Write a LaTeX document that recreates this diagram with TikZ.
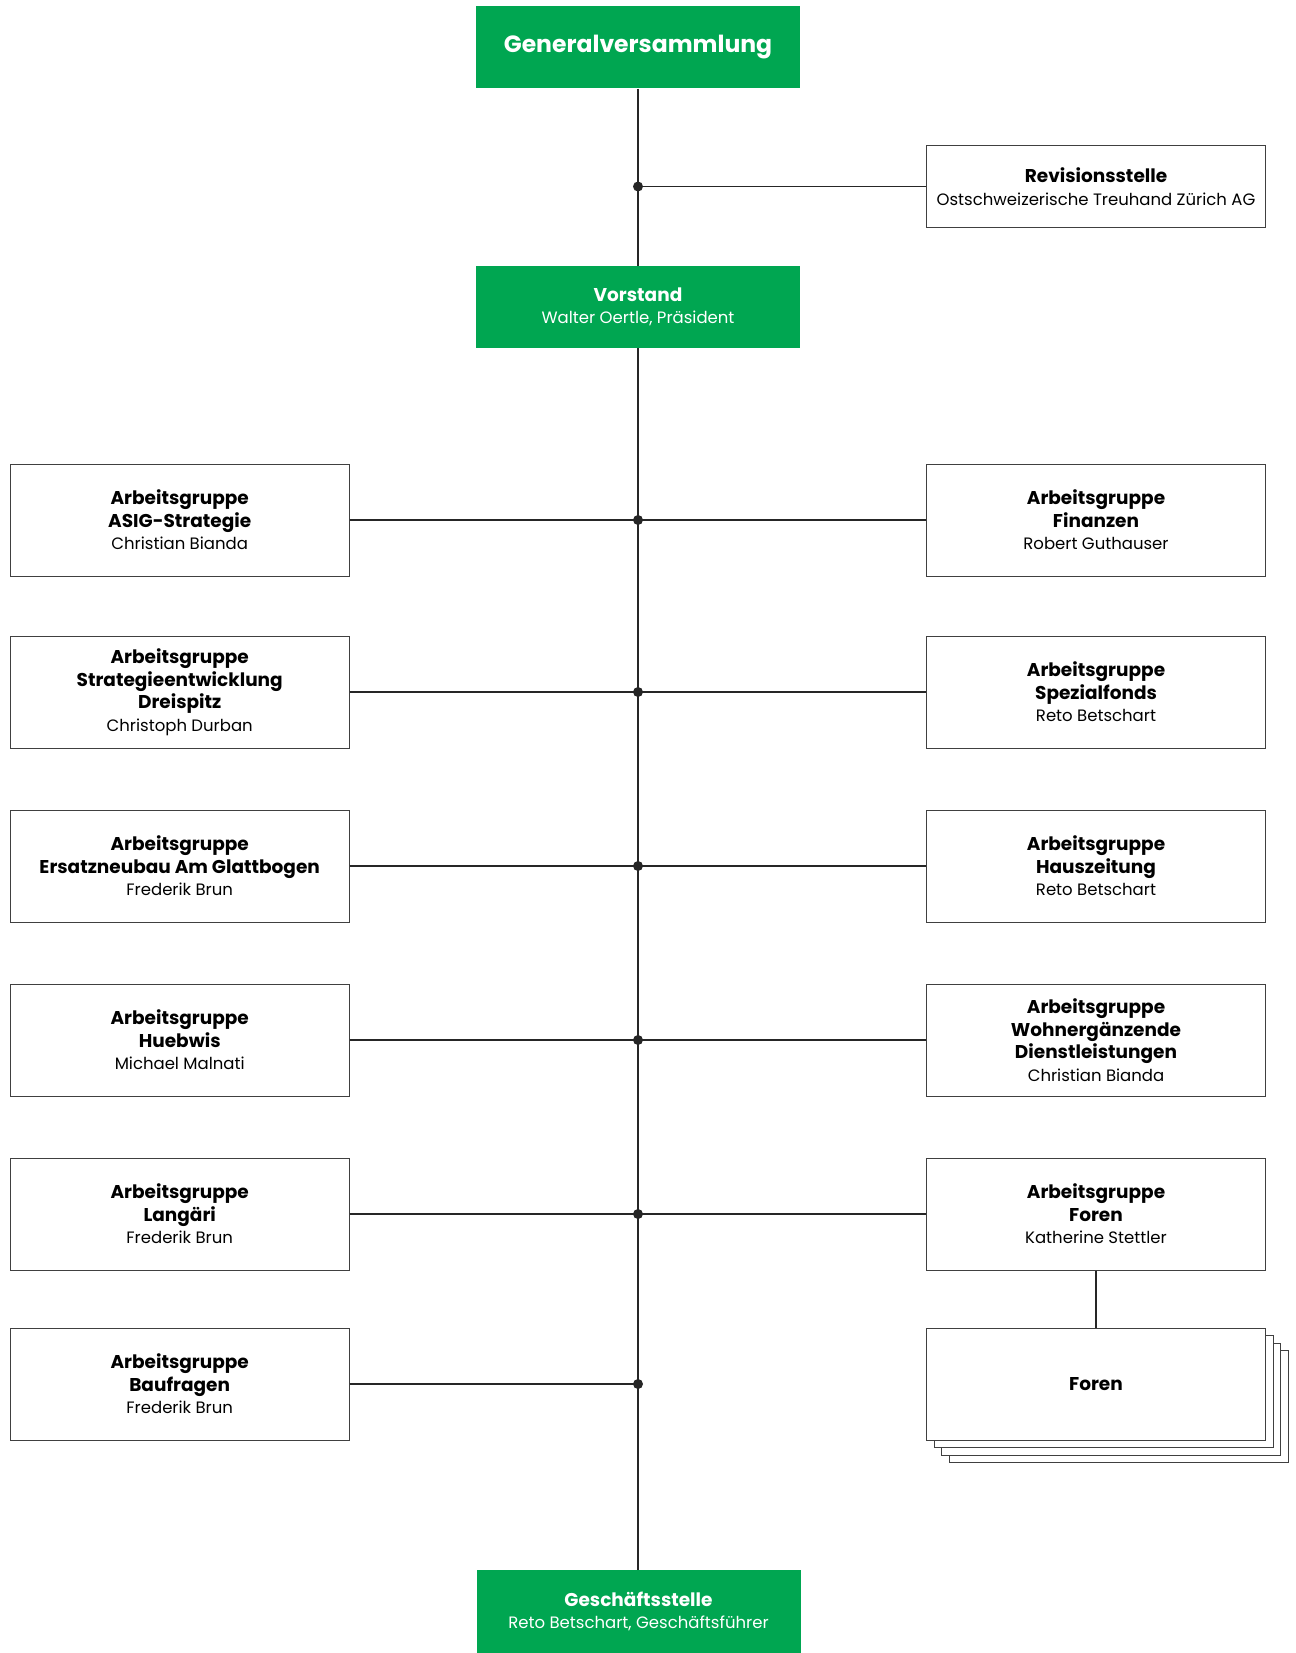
\documentclass[tikz,border=0pt]{standalone}
\usepackage{fontspec}
\setmainfont{Poppins}
\definecolor{asiggreen}{RGB}{0,166,81}
\newcommand{\hd}[1]{{\fontsize{18.5}{22.5}\selectfont\bfseries #1}}

\begin{document}
\begin{tikzpicture}[x=1pt,y=-1pt,
    greenbox/.style={fill=asiggreen, text=white, minimum width=324pt, minimum height=82pt,
      align=center, inner sep=0pt, font=\fontsize{16.5}{22.5}\selectfont},
    groupbox/.style={draw=black!75, line width=1pt, fill=white, minimum width=339pt,
      minimum height=112pt, align=center, inner sep=0pt, font=\fontsize{16.5}{22.5}\selectfont},
    link/.style={draw=black!85, line width=1.3pt},
    junction/.style={circle, fill=black!85, inner sep=0pt, minimum size=10pt}]
    \useasboundingbox (0,0) rectangle (1295,1653);

    \node[greenbox, font=\fontsize{23.5}{28}\selectfont\bfseries] (gv) at (638,47.5) {Generalversammlung};
    \node[greenbox] (vorstand) at (638,307) {\hd{Vorstand}\\Walter Oertle, Präsident};
    \node[greenbox, minimum height=83pt] (gs) at (638.5,1611.5) {\hd{Geschäftsstelle}\\Reto Betschart, Geschäftsführer};
    \node[groupbox, minimum height=82pt] (rev) at (1096,186.5) {\hd{Revisionsstelle}\\Ostschweizerische Treuhand Zürich AG};

    \node[groupbox] (asig) at (179.7,520) {\hd{Arbeitsgruppe}\\\hd{ASIG-Strategie}\\Christian Bianda};
    \node[groupbox] (dreispitz) at (179.7,692) {\hd{Arbeitsgruppe}\\\hd{Strategieentwicklung}\\\hd{Dreispitz}\\Christoph Durban};
    \node[groupbox] (glattbogen) at (179.7,866) {\hd{Arbeitsgruppe}\\\hd{Ersatzneubau Am Glattbogen}\\Frederik Brun};
    \node[groupbox] (huebwis) at (179.7,1040) {\hd{Arbeitsgruppe}\\\hd{Huebwis}\\Michael Malnati};
    \node[groupbox] (langaeri) at (179.7,1214) {\hd{Arbeitsgruppe}\\\hd{Langäri}\\Frederik Brun};
    \node[groupbox] (baufragen) at (179.7,1384) {\hd{Arbeitsgruppe}\\\hd{Baufragen}\\Frederik Brun};

    \node[groupbox] (finanzen) at (1096,520) {\hd{Arbeitsgruppe}\\\hd{Finanzen}\\Robert Guthauser};
    \node[groupbox] (spezialfonds) at (1096,692) {\hd{Arbeitsgruppe}\\\hd{Spezialfonds}\\Reto Betschart};
    \node[groupbox] (hauszeitung) at (1096,866) {\hd{Arbeitsgruppe}\\\hd{Hauszeitung}\\Reto Betschart};
    \node[groupbox] (dienste) at (1096,1040) {\hd{Arbeitsgruppe}\\\hd{Wohnergänzende}\\\hd{Dienstleistungen}\\Christian Bianda};
    \node[groupbox] (agforen) at (1096,1214) {\hd{Arbeitsgruppe}\\\hd{Foren}\\Katherine Stettler};

    % stacked Foren boxes
    \foreach \k in {3,2,1}
      \node[groupbox] (foren\k) at (1096+7.5*\k,1384+7.5*\k) {};
    \node[groupbox] (foren) at (1096,1384) {\hd{Foren}};

    \draw[link] (gv.south) -- (vorstand.north);
    \draw[link] (vorstand.south) -- (vorstand.south |- gs.north);
    \draw[link] (agforen.south) -- (foren.north);

    \node[junction] (jrev) at (638,186.5) {};
    \draw[link] (jrev.center) -- (rev.west);

    \foreach \l/\r [count=\i] in {asig/finanzen, dreispitz/spezialfonds, glattbogen/hauszeitung,
        huebwis/dienste, langaeri/agforen} {
      \draw[link] (\l.east) -- (\r.west);
      \node[junction] (j\i) at (638,0 |- \l.east) {};
    }
    \draw[link] (baufragen.east) -- (638,0 |- baufragen.east) coordinate (jb);
    \node[junction] (j6) at (jb) {};
\end{tikzpicture}
\end{document}
